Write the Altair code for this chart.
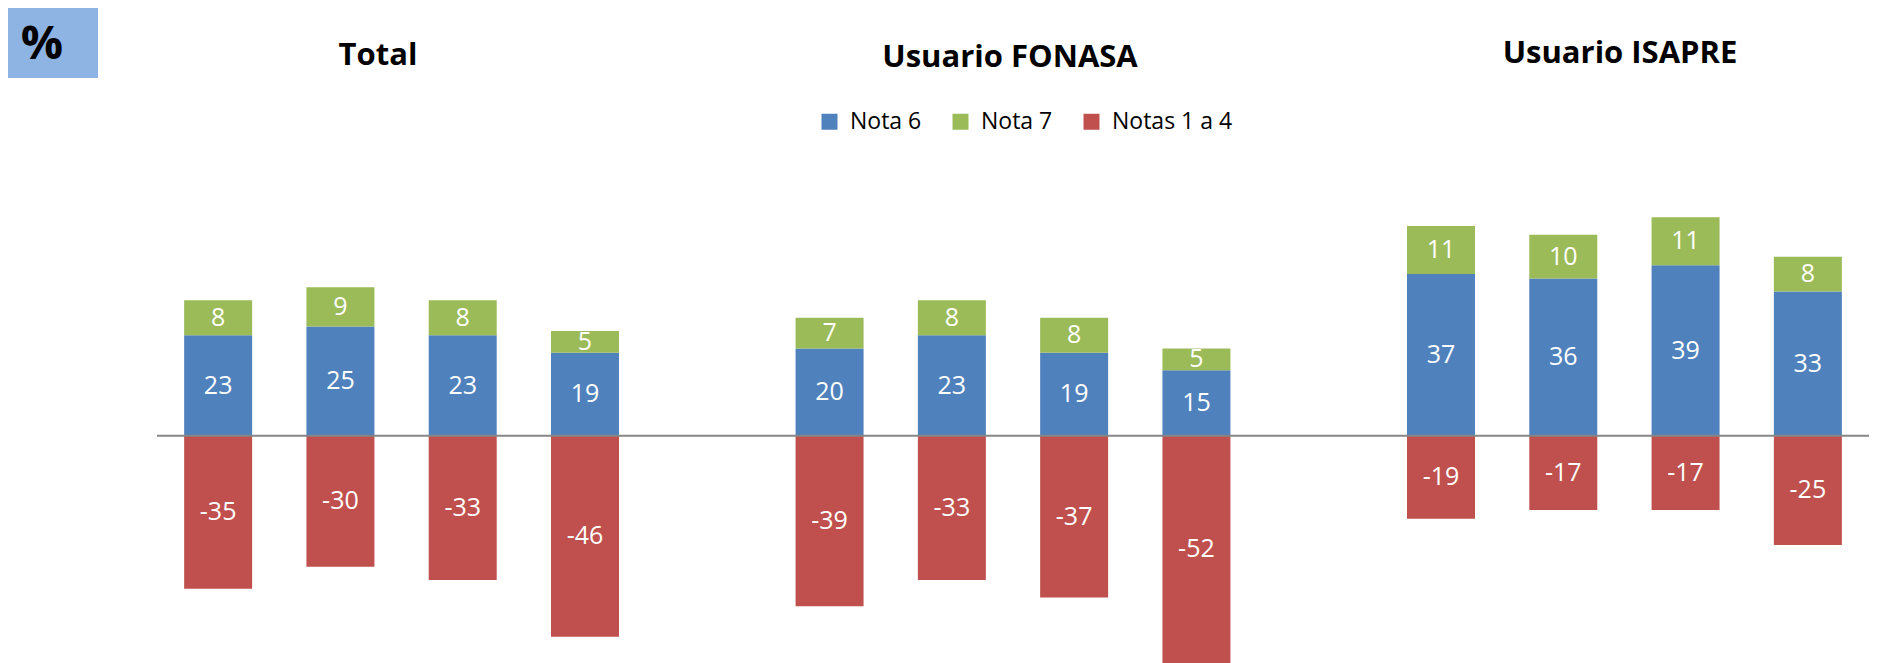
import altair as alt
import pandas as pd

# ---- data ----
series = ["Nota 6", "Nota 7", "Notas 1 a 4"]
series_colors = ["#4F81BD", "#9BBB59", "#C0504D"]

bar_ids = ["T1", "T2", "T3", "T4", "F1", "F2", "F3", "F4", "I1", "I2", "I3", "I4"]
x_domain = ["T1", "T2", "T3", "T4", "_g1", "F1", "F2", "F3", "F4", "_g2", "I1", "I2", "I3", "I4"]

nota6 = [23, 25, 23, 19, 20, 23, 19, 15, 37, 36, 39, 33]
nota7 = [8, 9, 8, 5, 7, 8, 8, 5, 11, 10, 11, 8]
notas14 = [-35, -30, -33, -46, -39, -33, -37, -52, -19, -17, -17, -25]

panel_titles = ["Total", "Usuario FONASA", "Usuario ISAPRE"]

rows = []
for i, b in enumerate(bar_ids):
    for k, (s, vals) in enumerate(zip(series, [nota6, nota7, notas14])):
        rows.append({"cat": b, "serie": s, "value": vals[i], "order": k, "label": str(vals[i])})
df = pd.DataFrame(rows)

FONT = "Open Sans"

x_enc = alt.X("cat:N", scale=alt.Scale(domain=x_domain, paddingInner=0.444, paddingOuter=0.222), axis=None)

base = alt.Chart(df).transform_stack(
    stack="value", groupby=["cat"], as_=["v0", "v1"],
    sort=[alt.SortField("order", order="ascending")],
).transform_calculate(mid="(datum.v0 + datum.v1) / 2")

bars = base.mark_bar().encode(
    x=x_enc,
    y=alt.Y("v0:Q", scale=alt.Scale(domain=[-52, 97.9], nice=False, zero=False), axis=None),
    y2="v1:Q",
    color=alt.Color(
        "serie:N",
        scale=alt.Scale(domain=series, range=series_colors),
        legend=alt.Legend(
            title=None, orient="none", legendX=661, legendY=102, direction="horizontal",
            symbolType="square", symbolSize=256, symbolStrokeWidth=0, symbolOpacity=1,
            labelFont=FONT, labelFontSize=23, labelColor="#000000", labelOffset=9,
            columnPadding=27, padding=0,
        ),
    ),
)

labels = base.mark_text(color="white", font=FONT, fontSize=25, baseline="middle", align="center").encode(
    x=x_enc, y=alt.Y("mid:Q"), text="label:N"
)

zero = alt.Chart(pd.DataFrame({"z": [0]})).mark_rule(color="#868686", strokeWidth=2).encode(y=alt.datum(0))

tdf = pd.DataFrame({"t": panel_titles})
title_pos = {"Total": (221, 57), "Usuario FONASA": (853, 59), "Usuario ISAPRE": (1463, 55)}
title_layers = []
for t in panel_titles:
    px, py = title_pos[t]
    title_layers.append(
        alt.Chart(tdf).transform_filter(alt.datum.t == t).mark_text(
            font=FONT, fontSize=31, fontWeight="bold", color="black", align="center", baseline="alphabetic"
        ).encode(x=alt.value(px), y=alt.value(py), text="t:N")
    )

pct = pd.DataFrame({"p": ["%"]})
pct_box = alt.Chart(pct).mark_rect(color="#8EB4E3").encode(
    x=alt.value(-149), x2=alt.value(-59), y=alt.value(0), y2=alt.value(70)
)
pct_text = alt.Chart(pct).mark_text(font=FONT, fontSize=47, fontWeight="bold", color="black",
                                    align="center", baseline="middle").encode(
    x=alt.value(-115), y=alt.value(37), text="p:N"
)

chart = alt.layer(bars, labels, zero, pct_box, pct_text, *title_layers).properties(
    width=1712, height=655,
    padding={"left": 149, "top": 0, "right": 0, "bottom": 0},
    autosize=alt.AutoSizeParams(type="none"),
).configure_view(stroke=None)

chart.save("out.html", embed_options={"renderer": "svg", "actions": False})
